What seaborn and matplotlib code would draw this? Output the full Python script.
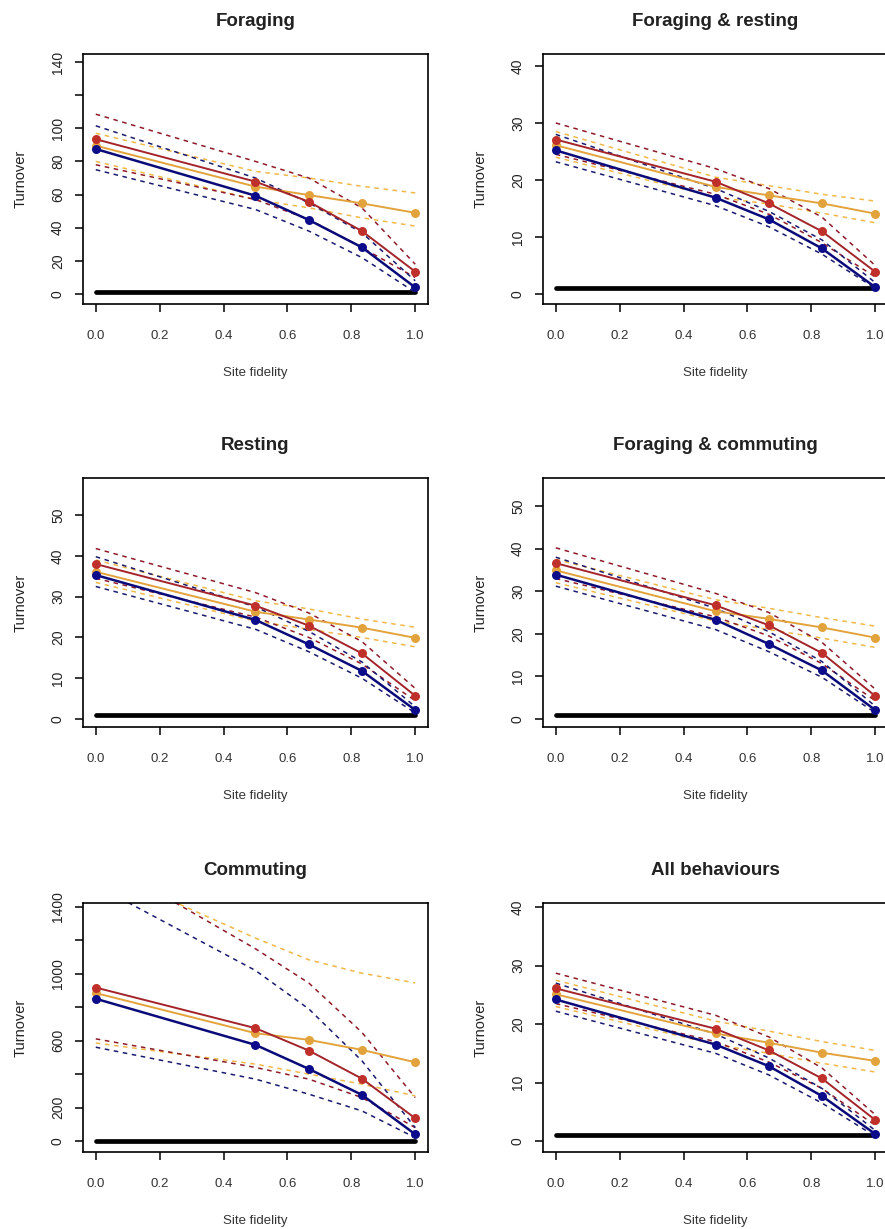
import numpy as np
import pandas as pd
import matplotlib
matplotlib.use("Agg")
import matplotlib.pyplot as plt
import seaborn as sns

# ---------------- data ----------------
site_fidelity = [0.0, 0.5, 0.667, 0.833, 1.0]
panel_titles = ["Foraging", "Foraging & resting", "Resting",
                "Foraging & commuting", "Commuting", "All behaviours"]
baseline_turnover = [1, 1]
baseline_x = [0.0, 1.0]

# Foraging
foraging_red = [93.4, 67.8, 55.7, 38.0, 13.5]
foraging_red_hi = [108.5, 80.0, 70.0, 52.0, 18.0]
foraging_red_lo = [78.0, 57.0, 45.0, 28.0, 10.0]
foraging_blue = [87.5, 59.3, 44.7, 28.2, 4.0]
foraging_blue_hi = [101.5, 70.0, 55.0, 37.0, 8.0]
foraging_blue_lo = [75.0, 51.0, 38.0, 22.0, 1.0]
foraging_orange = [89.5, 64.8, 59.7, 54.7, 49.0]
foraging_orange_hi = [97.0, 74.0, 70.0, 65.0, 61.0]
foraging_orange_lo = [80.0, 57.0, 52.0, 46.0, 41.0]

# Foraging & resting
forres_red = [27.1, 19.7, 15.9, 11.0, 3.9]
forres_red_hi = [30.0, 22.0, 18.5, 13.5, 5.0]
forres_red_lo = [24.5, 17.5, 14.0, 9.0, 3.0]
forres_blue = [25.2, 16.9, 13.1, 8.0, 1.2]
forres_blue_hi = [28.0, 18.5, 14.5, 9.5, 2.0]
forres_blue_lo = [23.2, 15.5, 11.8, 7.0, 1.0]
forres_orange = [26.1, 18.8, 17.3, 15.9, 14.1]
forres_orange_hi = [28.5, 20.5, 19.0, 17.5, 16.3]
forres_orange_lo = [24.0, 17.0, 15.8, 14.2, 12.5]

# Resting
resting_red = [38.0, 27.8, 22.9, 16.1, 5.7]
resting_red_hi = [41.8, 31.0, 26.0, 19.0, 7.5]
resting_red_lo = [34.5, 25.0, 20.0, 13.5, 4.5]
resting_blue = [35.3, 24.3, 18.3, 11.8, 2.2]
resting_blue_hi = [39.8, 27.5, 21.5, 14.0, 3.0]
resting_blue_lo = [32.5, 22.0, 16.5, 10.0, 1.5]
resting_orange = [36.1, 26.3, 24.4, 22.4, 19.9]
resting_orange_hi = [39.0, 29.0, 27.0, 24.5, 22.5]
resting_orange_lo = [33.5, 24.0, 22.0, 20.0, 17.7]

# Foraging & commuting
forcom_red = [36.6, 26.7, 22.0, 15.5, 5.4]
forcom_red_hi = [40.2, 29.5, 25.0, 18.0, 7.0]
forcom_red_lo = [33.0, 24.0, 19.5, 13.0, 4.3]
forcom_blue = [33.9, 23.3, 17.6, 11.4, 2.1]
forcom_blue_hi = [38.0, 26.0, 20.5, 13.5, 3.0]
forcom_blue_lo = [31.2, 21.0, 15.8, 9.8, 1.5]
forcom_orange = [34.9, 25.3, 23.5, 21.5, 19.1]
forcom_orange_hi = [37.5, 28.0, 26.0, 23.8, 21.8]
forcom_orange_lo = [32.0, 23.0, 21.0, 19.0, 16.8]

# Commuting
commuting_red = [918, 675, 541, 373, 136]
commuting_red_hi = [1700, 1150, 945, 650, 260]
commuting_red_lo = [611, 440, 370, 260, 80]
commuting_blue = [851, 575, 431, 276, 40]
commuting_blue_hi = [1530, 1020, 790, 480, 80]
commuting_blue_lo = [561, 370, 280, 180, 20]
commuting_orange = [885, 645, 605, 545, 471]
commuting_orange_hi = [1640, 1214, 1084, 1004, 946]
commuting_orange_lo = [586, 460, 400, 340, 270]

# All behaviours
allbeh_red = [26.1, 19.2, 15.5, 10.7, 3.6]
allbeh_red_hi = [28.7, 21.5, 17.8, 12.5, 4.5]
allbeh_red_lo = [23.5, 17.0, 13.5, 9.0, 2.7]
allbeh_blue = [24.2, 16.5, 12.8, 7.7, 1.2]
allbeh_blue_hi = [27.0, 18.3, 14.2, 9.0, 1.8]
allbeh_blue_lo = [22.2, 15.0, 11.3, 6.5, 0.8]
allbeh_orange = [25.1, 18.4, 16.8, 15.1, 13.7]
allbeh_orange_hi = [27.5, 20.5, 18.8, 17.0, 15.5]
allbeh_orange_lo = [23.0, 16.5, 15.0, 13.3, 11.8]

# y ticks
yticks_foraging = [0, 20, 40, 60, 80, 100, 120, 140]
ylabels_foraging = ["0", "20", "40", "60", "80", "100", "", "140"]
yticks_forres = [0, 10, 20, 30, 40]
yticks_resting = [0, 10, 20, 30, 40, 50]
yticks_forcom = [0, 10, 20, 30, 40, 50]
yticks_commuting = [0, 200, 400, 600, 800, 1000, 1200, 1400]
ylabels_commuting = ["0", "200", "", "600", "", "1000", "", "1400"]
yticks_allbeh = [0, 10, 20, 30, 40]
xticks = [0.0, 0.2, 0.4, 0.6, 0.8, 1.0]
xticklabels = ["0.0", "0.2", "0.4", "0.6", "0.8", "1.0"]

# ---------------- style ----------------
sns.set_style("ticks")
plt.rcParams["font.family"] = ["Liberation Sans", "DejaVu Sans"]

W, H = 885, 1229
fig = plt.figure(figsize=(W / 100, H / 100), dpi=100)

col_left = [83, 543]
row_top_bottom = [(54, 304), (478, 727), (903, 1152)]
axw = 345

panels = [
    (foraging_red, foraging_red_hi, foraging_red_lo, foraging_blue, foraging_blue_hi, foraging_blue_lo,
     foraging_orange, foraging_orange_hi, foraging_orange_lo, yticks_foraging, ylabels_foraging, (-6.0, 144.8)),
    (forres_red, forres_red_hi, forres_red_lo, forres_blue, forres_blue_hi, forres_blue_lo,
     forres_orange, forres_orange_hi, forres_orange_lo, yticks_forres, None, (-1.75, 42.1)),
    (resting_red, resting_red_hi, resting_red_lo, resting_blue, resting_blue_hi, resting_blue_lo,
     resting_orange, resting_orange_hi, resting_orange_lo, yticks_resting, None, (-1.96, 59.1)),
    (forcom_red, forcom_red_hi, forcom_red_lo, forcom_blue, forcom_blue_hi, forcom_blue_lo,
     forcom_orange, forcom_orange_hi, forcom_orange_lo, yticks_forcom, None, (-1.89, 56.6)),
    (commuting_red, commuting_red_hi, commuting_red_lo, commuting_blue, commuting_blue_hi, commuting_blue_lo,
     commuting_orange, commuting_orange_hi, commuting_orange_lo, yticks_commuting, ylabels_commuting, (-66, 1424)),
    (allbeh_red, allbeh_red_hi, allbeh_red_lo, allbeh_blue, allbeh_blue_hi, allbeh_blue_lo,
     allbeh_orange, allbeh_orange_hi, allbeh_orange_lo, yticks_allbeh, None, (-1.88, 40.7)),
]

RED, RED_D = "#C0302A", "#8E1B2A"
BLUE, BLUE_D = "#0C0C8A", "#1A1A6E"
ORANGE, ORANGE_D = "#E3A33C", "#F0B848"

for i, p in enumerate(panels):
    (r, rh, rl, b, bh, bl, o, oh, ol, yt, yl, ylim) = p
    row, col = divmod(i, 2)
    top, bot = row_top_bottom[row]
    ax = fig.add_axes([col_left[col] / W, 1 - bot / H, axw / W, (bot - top) / H])

    # reference line
    sns.lineplot(x=baseline_x, y=baseline_turnover, color="black", linewidth=3.4,
                 ax=ax, estimator=None, sort=False)

    # confidence bounds (dashed)
    for vals, c in [(oh, ORANGE_D), (ol, ORANGE_D), (rh, RED_D), (rl, RED_D), (bh, BLUE_D), (bl, BLUE_D)]:
        sns.lineplot(x=site_fidelity, y=vals, color=c, linewidth=1.1, ax=ax,
                     estimator=None, sort=False, linestyle=(0, (3, 3)))

    # mean lines
    for vals, c, lc, lw in [(o, ORANGE, ORANGE, 1.4), (r, RED, "#A3242A", 1.4), (b, BLUE, "#0A0A78", 1.8)]:
        sns.lineplot(x=site_fidelity, y=vals, color=lc, linewidth=lw, ax=ax,
                     estimator=None, sort=False)
        sns.scatterplot(x=site_fidelity, y=vals, color=c, s=42, edgecolor=c,
                        linewidth=0, ax=ax, zorder=5)

    ax.set_xlim(-0.04, 1.04)
    ax.set_ylim(*ylim)
    ax.set_xticks(xticks)
    ax.set_xticklabels(xticklabels, fontsize=9.5, color="#333333")
    ax.set_yticks(yt)
    ax.set_yticklabels(yl if yl is not None else [str(v) for v in yt],
                       rotation=90, va="center", fontsize=10, color="#222222")
    ax.tick_params(axis="both", length=6, width=1.1, color="black")
    ax.tick_params(axis="x", pad=13)
    ax.tick_params(axis="y", pad=7)
    for s in ax.spines.values():
        s.set_visible(True)
        s.set_linewidth(1.2)
        s.set_color("black")
    ax.set_title(panel_titles[i], fontsize=13.5, fontweight="bold", pad=20, color="#222222")
    ax.set_xlabel("Site fidelity", fontsize=9.5, labelpad=18, color="#333333")
    ax.set_ylabel("Turnover", fontsize=10.5, labelpad=17, color="#222222")
    ax.grid(False)

fig.savefig("out.png", dpi=100, facecolor="white")
